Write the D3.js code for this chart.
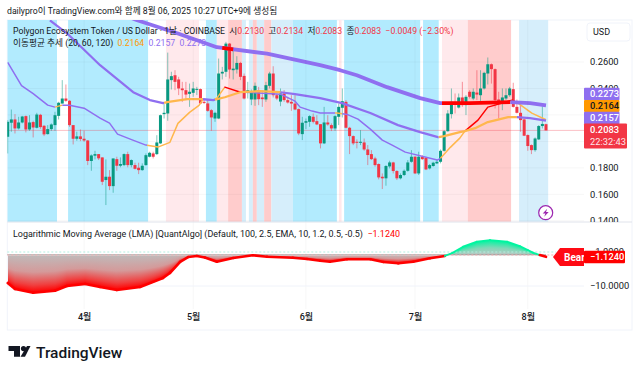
<!DOCTYPE html>
<html><head><meta charset="utf-8">
<style>html,body{margin:0;padding:0;background:#fff;overflow:hidden}svg{display:block}
text{font-family:Roboto,"Noto Sans CJK KR",sans-serif}</style>
<script src="https://cdn.jsdelivr.net/npm/d3@7"></script></head><body><svg id="c" width="640" height="373"></svg>
<script>
const opens=[.2035,.2141,.2166,.2098,.2143,.2191,.2090,.2146,.2103,.2201,.2118,.2055,.2093,.2123,.2193,.2286,.2324,.2307,.2123,.2020,.2038,.2020,.2007,.1852,.1892,.1904,.1879,.1708,.1733,.1662,.1866,.1816,.1821,.1904,.1821,.1821,.1801,.1783,.1821,.1884,.1909,.1904,.1985,.2206,.2211,.2463,.2500,.2468,.2400,.2387,.2359,.2367,.2394,.2395,.2299,.2287,.2236,.2173,.2173,.2513,.2526,.2739,.2538,.2543,.2593,.2495,.2367,.2317,.2317,.2387,.2332,.2317,.2420,.2513,.2349,.2301,.2362,.2312,.2299,.2286,.2244,.2055,.2141,.2148,.2186,.2153,.2130,.1985,.2143,.2123,.2098,.2186,.2254,.2299,.2103,.2040,.1997,.1990,.1992,.1939,.1904,.1871,.1829,.1733,.1721,.1811,.1841,.1776,.1721,.1746,.1778,.1846,.1884,.1758,.1884,.1876,.1796,.1814,.1834,.1846,.1929,.2077,.2206,.2299,.2256,.2332,.2274,.2375,.2324,.2369,.2349,.2400,.2513,.2583,.2546,.2317,.2286,.2324,.2349,.2395,.2261,.2216,.2166,.2048,.1972,.1934,.2015,.2116,.2130];
const highs=[.2161,.2241,.2206,.2186,.2193,.2196,.2198,.2156,.2216,.2208,.2123,.2123,.2136,.2224,.2299,.2463,.2430,.2312,.2123,.2073,.2090,.2080,.2010,.1902,.1929,.1904,.1879,.1864,.1783,.1871,.1884,.1879,.1909,.1922,.1864,.1839,.1839,.1834,.1909,.1922,.1922,.2047,.2203,.2282,.2671,.2526,.2538,.2488,.2450,.2450,.2437,.2450,.2412,.2400,.2324,.2312,.2244,.2224,.2626,.2563,.2752,.2744,.2694,.2644,.2601,.2513,.2450,.2392,.2445,.2412,.2387,.2450,.2526,.2568,.2362,.2400,.2387,.2337,.2349,.2349,.2249,.2186,.2173,.2198,.2211,.2198,.2130,.2261,.2198,.2136,.2198,.2286,.2400,.2312,.2110,.2045,.2015,.2085,.2022,.1972,.1934,.1884,.1834,.1758,.1821,.1854,.1846,.1783,.1758,.1788,.1859,.1934,.1889,.1922,.1896,.1884,.1829,.1846,.1864,.1939,.2085,.2236,.2400,.2362,.2362,.2450,.2349,.2387,.2400,.2538,.2538,.2526,.2634,.2589,.2551,.2375,.2400,.2400,.2412,.2443,.2317,.2286,.2173,.2053,.1977,.2030,.2123,.2266,.2134];
const lows=[.1909,.2073,.2060,.2090,.2136,.2068,.2080,.2030,.2098,.2095,.2040,.2052,.2080,.2080,.2166,.2286,.2299,.2110,.1977,.2005,.2002,.1997,.1821,.1778,.1864,.1859,.1670,.1519,.1632,.1612,.1778,.1804,.1813,.1804,.1804,.1788,.1753,.1778,.1816,.1879,.1871,.1897,.1980,.2173,.2156,.2392,.2387,.2350,.2299,.2312,.2261,.2337,.2350,.2282,.2282,.2224,.2080,.2148,.2168,.2468,.2488,.2475,.2468,.2513,.2463,.2317,.2324,.2274,.2269,.2274,.2261,.2299,.2400,.2332,.2312,.2266,.2299,.2286,.2231,.2236,.2047,.2010,.2093,.2110,.2136,.2123,.1947,.1980,.2118,.2078,.2080,.2123,.2181,.2098,.1904,.1972,.1947,.1972,.1929,.1821,.1859,.1809,.1713,.1640,.1665,.1796,.1758,.1708,.1713,.1738,.1771,.1839,.1753,.1746,.1859,.1783,.1788,.1809,.1829,.1834,.1922,.2073,.2173,.2211,.2249,.2261,.2199,.2324,.2312,.2312,.2299,.2392,.2430,.2437,.2249,.2173,.2236,.2312,.2337,.2256,.2211,.2073,.2040,.1929,.1904,.1922,.2010,.2098,.2083];
const closes=[.2148,.2166,.2098,.2143,.2188,.2090,.2143,.2105,.2203,.2108,.2053,.2093,.2128,.2198,.2292,.2324,.2307,.2123,.2020,.2038,.2018,.2007,.1852,.1894,.1904,.1872,.1695,.1733,.1662,.1871,.1816,.1829,.1904,.1821,.1859,.1793,.1783,.1816,.1896,.1914,.1884,.1992,.2198,.2216,.2468,.2493,.2450,.2400,.2387,.2354,.2375,.2400,.2397,.2287,.2291,.2231,.2181,.2216,.2513,.2526,.2739,.2543,.2550,.2593,.2488,.2324,.2387,.2380,.2420,.2319,.2319,.2425,.2513,.2349,.2324,.2362,.2312,.2294,.2286,.2241,.2060,.2141,.2153,.2191,.2148,.2128,.1985,.2143,.2128,.2098,.2191,.2261,.2304,.2103,.2040,.1985,.1990,.1997,.1939,.1897,.1866,.1821,.1728,.1721,.1814,.1841,.1776,.1721,.1746,.1778,.1841,.1884,.1758,.1884,.1866,.1788,.1821,.1839,.1846,.1929,.2077,.2211,.2299,.2286,.2332,.2274,.2337,.2337,.2375,.2354,.2400,.2518,.2583,.2546,.2312,.2299,.2332,.2349,.2400,.2261,.2216,.2161,.2043,.1965,.1934,.2022,.2116,.2132,.2083];

const ma120Idx=[32.2,35.6,46.6,57.5,71.3,85.9,91.4,96,104.3,113.4,118.9,127.1,138.1,143.6,148];
const ma120Val=[.2953,.2915,.2817,.2712,.2663,.2576,.2538,.2500,.2410,.2327,.2289,.2289,.2297,.2289,.2273];
const ma60Idx=[11.6,16.3,25.4,34.5,39.1,42.7,43.8,49.3,53.7,56.5,59.7,63.9,69.4,74.9,79,85.9,91.9,99.7,107.3,113.4,118.3,120,124.3,125.7,128.5,132,137.6,140,143.6,148];
const ma60Val=[.2915,.2817,.2576,.2372,.2312,.2289,.2297,.2319,.2319,.2312,.2334,.2372,.2380,.2372,.2357,.2327,.2289,.2214,.2123,.2070,.2032,.2040,.2070,.2078,.2100,.2146,.2183,.2183,.2176,.2157];
const ma20Idx=[0,3.8,7,11,13,15,17,21,25.4,28,30.2,34.4,38,41.3,44.6,46.8,50,52.6,53.7,56.5,57.5,59.7,64,65,75,79,80.4,83.7,85.9,90.5,93.3,96.3,99.7,103,105.7,109.3,118.1,119,121.7,124.3,125.7,129.3,132,134,138.7,140.3,144.1,148];
const ma20Val=[.2598,.2421,.2361,.2274,.2259,.2274,.2274,.2251,.2176,.2138,.2055,.2010,.1972,.1957,.1993,.2136,.2219,.2272,.2317,.2312,.2327,.2410,.2372,.2372,.2357,.2304,.2259,.2229,.2214,.2214,.2204,.2168,.2093,.2010,.1972,.1919,.1859,.1872,.1955,.2025,.2078,.2161,.2259,.2274,.2312,.2289,.2214,.2164];

const ma120Segs=[[32.2,119.4,"purple"],[59,62,"red"],[119.4,138.2,"red"],[138.2,148,"purple"]];
const ma60Segs=[[11.6,43,"purple"],[43,53.7,"orange"],[53.7,57,"purple"],[57,75,"orange"],[75,118.5,"purple"],[118.5,140,"orange"],[140,148,"purple"]];
const ma20Segs=[[0,13,"purple"],[13,15,"orange"],[15,38.3,"purple"],[38.3,53.7,"orange"],[53.7,56.5,"purple"],[56.5,59.6,"orange"],[59.6,64,"red"],[64,90,"purple"],[90,92,"orange"],[92,119,"purple"],[119,125.7,"orange"],[125.7,140,"red"],[140,148,"orange"]];

const lmaIdx=[0,2,7,13,16.3,21.3,25.4,30,36.4,42.7,44.6,47.4,49.6,52,54.2,57.5,62,67.4,71.3,78.4,82.3,85.9,88.6,93.3,99.7,103.3,107.4,111.5,116.1,120.2,122.2,125.2,129,132.6,137.3,140.8,143,144.4,146.3,148];
const lmaVal=[-7.98,-12.5,-16.5,-14.2,-10,-8.6,-10.8,-13.5,-10.8,-5.49,-3.77,-1.65,-1.14,-1.05,-1.18,-1.62,-1.22,-1.0,-1.11,-1.20,-1.32,-1.50,-1.62,-1.35,-1.35,-1.65,-1.82,-1.62,-1.25,-1.05,-0.84,-0.525,-0.36,-0.318,-0.36,-0.50,-0.67,-0.82,-0.98,-1.124];

const bandStart=[-0.1,16.6,43.5,54.5,57.5,60.6,64.4,66.3,67.4,68.5,70.5,72.5,78.4,91.1,92.5,114.2,119.4,126.5,140.6];
const bandEnd=[13.55,38.6,52.6,57.5,60.6,64.4,65.5,67.4,68.5,70.5,72.5,78.4,90.5,91.8,113.4,118.5,126.5,138.4,148.6];
const bandKind=["b","b","lp","b","lp","p","lb","lb","p","lb","p","lb","b","lp","b","b","lp","p","lb"];

const priceTicks=[.26,.24,.22,.20,.18,.16,.14];
const priceLabels=[.26,.24,.18,.16,.14];
const lmaTicks=[-1,-10];
const monthIdx=[21,51,82,112,143];
const monthLabels=["4월","5월","6월","7월","8월"];

const col={up:"#089981",down:"#F23645",purple:"#8F6FF0",orange:"#FFB74D",red:"#FF0000",
 b:"#B2EBFE",lb:"#D6EEFB",lp:"#FFE9EC",p:"#FFCCCC",grid:"#F0F3FA",ink:"#131722"};

const svg=d3.select("#c");
const n=closes.length;
const x=d3.scaleLinear().domain([0,148]).range([7.7,546]);
const y=d3.scaleLinear().domain([.14,.26]).range([220.8,62]);
const yL=d3.scaleLog().domain([1,10]).range([255.3,286]);
const yLv=v=>yL(-v);
const L=7.3,R=584,PT=20,PB=222,LB=309,FR=632,FB=330;

const defs=svg.append("defs");
defs.append("clipPath").attr("id","top").append("rect").attr("x",L).attr("y",PT).attr("width",R-L).attr("height",PB-PT);
defs.append("clipPath").attr("id","axTop").append("rect").attr("x",R).attr("y",PT).attr("width",FR-R).attr("height",PB-PT);
function grad(id,stops){const g=defs.append("linearGradient").attr("id",id).attr("x1",0).attr("y1",0).attr("x2",0).attr("y2",1);
 stops.forEach(s=>g.append("stop").attr("offset",s[0]).attr("stop-color",s[1]));}
grad("gRed",[[0,"#BFBABA"],[.45,"#D49A9A"],[.8,"#F04040"],[1,"#FF0000"]]);
grad("gGreen",[[0,"#00F5A0"],[.5,"#80D8B8"],[1,"#C4C4C4"]]);

// frame
svg.append("rect").attr("x",L).attr("y",PT).attr("width",FR-L).attr("height",FB-PT).attr("fill","#fff").attr("stroke",col.grid).attr("stroke-width",1);

// bands
const topG=svg.append("g").attr("clip-path","url(#top)");
topG.selectAll("rect.band").data(bandStart).join("rect").attr("class","band")
 .attr("x",(d,i)=>x(d)).attr("width",(d,i)=>x(bandEnd[i])-x(d)).attr("y",PT).attr("height",PB-PT)
 .attr("fill",(d,i)=>col[bandKind[i]]);

// grid
topG.selectAll("line.h").data(priceTicks).join("line").attr("class","h").attr("x1",L).attr("x2",R).attr("y1",d=>y(d)).attr("y2",d=>y(d)).attr("stroke","#000").attr("stroke-opacity",.035);
svg.selectAll("line.v").data(monthIdx).join("line").attr("class","v").attr("x1",d=>x(d)).attr("x2",d=>x(d)).attr("y1",PT).attr("y2",LB).attr("stroke","#000").attr("stroke-opacity",.035);
svg.append("line").attr("x1",L).attr("x2",R).attr("y1",yL(10)).attr("y2",yL(10)).attr("stroke",col.grid);
svg.append("line").attr("x1",L).attr("x2",FR).attr("y1",PB).attr("y2",PB).attr("stroke","#E0E3EB");

// last price line
topG.append("line").attr("x1",L).attr("x2",R).attr("y1",y(closes[n-1])).attr("y2",y(closes[n-1])).attr("stroke",col.down).attr("stroke-opacity",.3);

// candles
const cg=topG.append("g");
cg.selectAll("line").data(closes).join("line").attr("x1",(d,i)=>x(i)).attr("x2",(d,i)=>x(i))
 .attr("y1",(d,i)=>y(highs[i])).attr("y2",(d,i)=>y(lows[i]))
 .attr("stroke",(d,i)=>d>=opens[i]?col.up:col.down).attr("stroke-opacity",.5).attr("stroke-width",1);
cg.selectAll("rect").data(closes).join("rect").attr("x",(d,i)=>x(i)-1.5).attr("width",3)
 .attr("y",(d,i)=>y(Math.max(d,opens[i]))).attr("height",(d,i)=>Math.max(1,Math.abs(y(d)-y(opens[i]))))
 .attr("fill",(d,i)=>d>=opens[i]?col.up:col.down);

// moving averages
function drawMA(idx,val,segs,w){
 const at=d3.scaleLinear().domain(idx).range(val);
 const ln=d3.line().x(d=>x(d[0])).y(d=>y(d[1]));
 segs.forEach(s=>{
  const a=Math.max(s[0],idx[0]),b=s[1];
  const pts=[[a,at(a)]];
  idx.forEach((k,i)=>{if(k>a&&k<b)pts.push([k,val[i]]);});
  pts.push([b,at(b)]);
  topG.append("path").attr("d",ln(pts)).attr("fill","none").attr("stroke",col[s[2]]).attr("stroke-width",w).attr("stroke-linejoin","round");
 });
}
drawMA(ma20Idx,ma20Val,ma20Segs,1.5);
drawMA(ma60Idx,ma60Val,ma60Segs,2.2);
drawMA(ma120Idx,ma120Val,ma120Segs,3.8);

// lightning icon
const ic=svg.append("g").attr("transform","translate(545.7,212.7)");
ic.append("circle").attr("r",7).attr("fill","#fff").attr("stroke","#9C27B0").attr("stroke-width",1.2);
ic.append("path").attr("d","M1.5,-4 L-3,0.8 L-0.3,0.8 L-1.5,4 L3,-0.8 L0.3,-0.8 Z").attr("fill","#9C27B0");

// LMA area: per column slices, each with a normalised gradient
const lmaAt=d3.scaleLinear().domain(lmaIdx).range(lmaVal);
const base=yL(1);
const la=svg.append("g");
d3.range(Math.ceil(x(0)),Math.floor(x(148))).forEach(px=>{
 const yy=yLv(lmaAt(x.invert(px+.5)));
 if(Math.abs(yy-base)<.3)return;
 la.append("rect").attr("x",px).attr("width",1.05).attr("y",Math.min(yy,base)).attr("height",Math.abs(yy-base))
  .attr("fill",yy>base?"url(#gRed)":"url(#gGreen)");
});
svg.append("line").attr("x1",L).attr("x2",x(148)).attr("y1",base-.7).attr("y2",base-.7).attr("stroke","#999").attr("stroke-opacity",.7);
svg.append("line").attr("x1",L).attr("x2",556).attr("y1",252).attr("y2",252).attr("stroke","#B2F0E0").attr("stroke-dasharray","2 2");
svg.append("line").attr("x1",L).attr("x2",556).attr("y1",255).attr("y2",255).attr("stroke","#F4B0B0").attr("stroke-dasharray","2 2");
const lmaPts=lmaIdx.map((k,i)=>[k,lmaVal[i]]);
const lmaColor=v=>v<-1.02?col.red:(v>-.95?"#00F5A0":"#FF9800");
lmaPts.slice(1).forEach((p,i)=>{
 const q=lmaPts[i],m=(p[1]+q[1])/2;
 svg.append("path").attr("d",d3.line().x(d=>x(d[0])).y(d=>yLv(d[1]))([q,p])).attr("fill","none")
  .attr("stroke",lmaColor(m)).attr("stroke-width",m>-1.02?1.8:2.6).attr("stroke-linecap","round");
});

// axes
const fmt4=d3.format(".4f");
const minus=s=>s.replace("-","−");
const AXF=9.3;
const axP=svg.append("g").attr("clip-path","url(#axTop)").append("g").attr("transform","translate(590,0)")
 .call(d3.axisRight(y).tickValues(priceLabels).tickSize(0).tickPadding(0).tickFormat(fmt4));
axP.select(".domain").remove();
axP.selectAll("text").attr("font-family","Roboto,sans-serif").attr("font-size",AXF).attr("fill",col.ink);
const axL=svg.append("g").attr("transform","translate(590,0)")
 .call(d3.axisRight(d3.scaleLinear().domain([252,286]).range([252,286])).tickValues([252,286]).tickSize(0).tickPadding(0).tickFormat((d,i)=>minus(fmt4(lmaTicks[i]))));
axL.select(".domain").remove();
axL.selectAll("text").attr("font-family","Roboto,sans-serif").attr("font-size",AXF).attr("fill",col.ink);
const axT=svg.append("g").attr("transform","translate(0,314)")
 .call(d3.axisBottom(x).tickValues(monthIdx).tickSize(0).tickPadding(0).tickFormat((d,i)=>monthLabels[i]));
axT.select(".domain").remove();
axT.selectAll("text").attr("font-family",'"Noto Sans CJK KR",sans-serif').attr("font-size",9).attr("font-weight",500).attr("fill",col.ink);

function tag(xx,yc,w,h,fill,label,tc,sub){
 svg.append("rect").attr("x",xx).attr("y",yc-h/2).attr("width",w).attr("height",h).attr("rx",1).attr("fill",fill);
 svg.append("text").attr("x",590).attr("y",sub?yc-h/2+9.5:yc+3.4).attr("font-size",AXF).attr("font-weight",500).attr("fill",tc).text(label);
 if(sub)svg.append("text").attr("x",590).attr("y",yc-h/2+21).attr("font-size",AXF).attr("fill",tc).attr("fill-opacity",.9).text(sub);
}
tag(584,94,35.5,12.5,"#8F6FF0",fmt4(ma120Val[ma120Val.length-1]),"#fff");
tag(584,106,35.5,12,"#FF9800",fmt4(ma20Val[ma20Val.length-1]),"#131722");
tag(584,118,35.5,12.5,"#8F6FF0",fmt4(ma60Val[ma60Val.length-1]),"#fff");
tag(584,136,43,25,"#F23645",fmt4(closes[n-1]),"#fff","22:32:43");

svg.append("path").attr("d","M553,257 L560,248 L584,248 L584,266 L560,266 Z").attr("fill","#FF0A14");
svg.append("text").attr("x",564).attr("y",260.5).attr("font-family",'"Liberation Serif",serif').attr("font-weight",700).attr("font-size",10).attr("fill","#fff").text("Bear");
tag(584,257,41,12.5,"#FF0000",minus(fmt4(lmaVal[lmaVal.length-1])),"#fff");

// USD button
svg.append("rect").attr("x",587).attr("y",23).attr("width",43).attr("height",18).attr("rx",3).attr("fill","#fff").attr("stroke","#F0F3FA");
svg.append("text").attr("x",593).attr("y",35.3).attr("font-size",9).attr("fill",col.ink).text("USD");

// header texts
function rowText(x0,yy,parts,fs){
 const t=svg.append("text").attr("x",x0).attr("y",yy).attr("font-size",fs).style("white-space","pre");
 parts.forEach(p=>t.append("tspan").attr("fill",p[1]).text(p[0]));
}
const ink="#131722",rd="#F23645";
rowText(7,14,[["dailypro이 TradingView.com와 함께 8월 06, 2025 10:27 UTC+9에 생성됨",ink]],8.7);
rowText(13,34,[["Polygon Ecosystem Token / US Dollar · 1날 · COINBASE  시",ink],[fmt4(opens[n-1]),rd],["  고",ink],[fmt4(highs[n-1]),rd],["  저",ink],[fmt4(lows[n-1]),rd],["  종",ink],[fmt4(closes[n-1]),rd],["  −0.0049 (−2.30%)",rd]],8.7);
rowText(13,46,[["이동평균 추세 (20, 60, 120)  ",ink],[fmt4(ma20Val[ma20Val.length-1]),"#FF9800"],["  ",ink],[fmt4(ma60Val[ma60Val.length-1]),"#8F6FF0"],["  ",ink],[fmt4(ma120Val[ma120Val.length-1]),"#8F6FF0"]],8.7);
rowText(13,237.2,[["Logarithmic Moving Average (LMA) [QuantAlgo] (Default, 100, 2.5, EMA, 10, 1.2, 0.5, -0.5)  ",ink],[minus(fmt4(lmaVal[lmaVal.length-1])),"#FF0000"]],8.95);

// logo
const lg=svg.append("g").attr("fill","#131722");
lg.append("path").attr("d","M8.5,346 L20,346 L20,356.7 L14,356.7 L14,351 L8.5,351 Z");
lg.append("circle").attr("cx",23.5).attr("cy",348.6).attr("r",2.6);
lg.append("path").attr("d","M27,346 L30.5,346 L25,356.7 L20.5,356.7 Z");
svg.append("text").attr("x",36).attr("y",357.5).attr("font-family","Inter,Roboto,sans-serif").attr("font-weight",500).attr("font-size",15.5).attr("fill","#131722").text("TradingView");
</script></body></html>
